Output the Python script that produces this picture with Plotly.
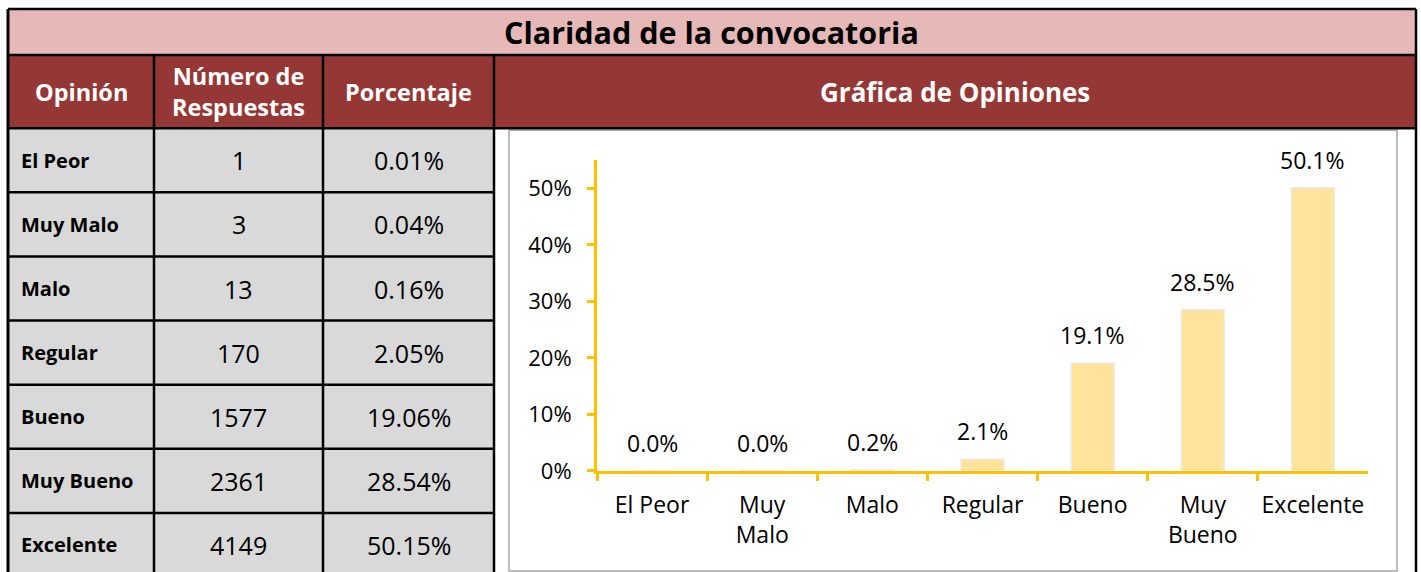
import plotly.graph_objects as go

# ---------------- data ----------------
title_text = "Claridad de la convocatoria"
header_labels = ["Opinión", "Número de<br>Respuestas", "Porcentaje"]
chart_header = "Gráfica de Opiniones"
opinions = ["El Peor", "Muy Malo", "Malo", "Regular", "Bueno", "Muy Bueno", "Excelente"]
responses = [1, 3, 13, 170, 1577, 2361, 4149]
percent_text = ["0.01%", "0.04%", "0.16%", "2.05%", "19.06%", "28.54%", "50.15%"]
percent_values = [0.01, 0.04, 0.16, 2.05, 19.06, 28.54, 50.15]
data_labels = ["0.0%", "0.0%", "0.2%", "2.1%", "19.1%", "28.5%", "50.1%"]
x_tick_labels = ["El Peor", "Muy<br>Malo", "Malo", "Regular", "Bueno", "Muy<br>Bueno", "Excelente"]
y_tick_values = [0, 0.1, 0.2, 0.3, 0.4, 0.5]
y_tick_labels = ["0%", "10%", "20%", "30%", "40%", "50%"]

# ---------------- geometry helpers ----------------
W, H = 1421, 572          # reference pixel grid used for placement
FIG_H = 587               # figure height (the capture squeezes it back to 572)
FONT = "Open Sans"


def px(x):
    return x / W


def py(y):
    return 1 - y / H


shapes = []
annotations = []


def rect(x0, y0, x1, y1, fill, line_color=None, line_width=0, layer="below"):
    shapes.append(dict(type="rect", xref="paper", yref="paper",
                       x0=px(x0), x1=px(x1), y0=py(y1), y1=py(y0),
                       fillcolor=fill, layer=layer,
                       line=dict(color=line_color or fill, width=line_width)))


def hline(x0, x1, y, color="black", width=2.5):
    shapes.append(dict(type="line", xref="paper", yref="paper",
                       x0=px(x0), x1=px(x1), y0=py(y), y1=py(y),
                       line=dict(color=color, width=width), layer="below"))


def vline(x, y0, y1, color="black", width=2.5):
    shapes.append(dict(type="line", xref="paper", yref="paper",
                       x0=px(x), x1=px(x), y0=py(y0), y1=py(y1),
                       line=dict(color=color, width=width), layer="below"))


def text(x, y, s, size, color="black", bold=False, xanchor="center"):
    if bold:
        s = "<b>" + s.replace("<br>", "</b><br><b>") + "</b>"
    annotations.append(dict(xref="paper", yref="paper", x=px(x), y=py(y), text=s,
                            showarrow=False, xanchor=xanchor, yanchor="middle",
                            font=dict(family=FONT, size=size, color=color)))


# column/row boundaries (pixels)
col_x = [8, 154, 323, 494]
right_x = 1416
top_y, title_bottom, header_bottom = 9, 55, 128
row_h = 64
row_y = [header_bottom + i * row_h for i in range(len(opinions) + 1)]

PINK = "#E6B8B7"
DARKRED = "#953735"
GRAY = "#D9D9D9"

# backgrounds
rect(col_x[0], top_y, right_x, title_bottom, PINK)
rect(col_x[0], title_bottom, right_x, header_bottom, DARKRED)
rect(col_x[0], header_bottom, col_x[3], H, GRAY)
# chart box
rect(509, 130, 1397, 570, "white", "#A6A6A6", 1.5)

# grid lines
hline(col_x[0], right_x, top_y)
hline(col_x[0], right_x, title_bottom)
hline(col_x[0], right_x, header_bottom)
for y in row_y[1:]:
    if y < H:
        hline(col_x[0], col_x[3], y)
vline(col_x[0], top_y, H, width=3)
for x in col_x[1:]:
    vline(x, title_bottom, H)
vline(right_x, top_y, H)

# texts
text((col_x[0] + right_x) / 2, (top_y + title_bottom) / 2, title_text, 30.5, bold=True)
for i, lab in enumerate(header_labels):
    text((col_x[i] + col_x[i + 1]) / 2, (title_bottom + header_bottom) / 2, lab, 23.5,
         color="white", bold=True)
text((col_x[3] + right_x) / 2, (title_bottom + header_bottom) / 2, chart_header, 26,
     color="white", bold=True)
for i, op in enumerate(opinions):
    yc = (row_y[i] + row_y[i + 1]) / 2
    text(col_x[0] + 11, yc, op, 20, bold=True, xanchor="left")
    text((col_x[1] + col_x[2]) / 2, yc, str(responses[i]), 25)
    text((col_x[2] + col_x[3]) / 2, yc, percent_text[i], 25)

# ---------------- chart ----------------
AXIS = "#FFC000"
bar_values = [v / 100 for v in percent_values]

fig = go.Figure()
fig.add_trace(go.Bar(
    x=opinions, y=bar_values, width=0.39,
    marker=dict(color="#FFE39A", line=dict(color="#EAEAEA", width=1.5)),
    hoverinfo="skip", showlegend=False,
))

for op, v, lab in zip(opinions, bar_values, data_labels):
    annotations.append(dict(xref="x", yref="y", x=op, y=v, text=lab, showarrow=False,
                            yanchor="bottom", yshift=10,
                            font=dict(family=FONT, size=23, color="black")))

fig.update_layout(
    width=W, height=FIG_H, autosize=False,
    margin=dict(l=0, r=0, t=0, b=0),
    paper_bgcolor="white", plot_bgcolor="rgba(0,0,0,0)",
    font=dict(family=FONT, size=22, color="black"),
    shapes=shapes, annotations=annotations,
    xaxis=dict(domain=[px(597), px(1368)], type="category",
               tickvals=opinions, ticktext=x_tick_labels,
               showline=True, linecolor=AXIS, linewidth=3,
               ticks="outside", tickson="boundaries", ticklen=7, tickwidth=3,
               tickcolor=AXIS, showgrid=False, zeroline=False,
               ticklabelstandoff=12,
               tickfont=dict(family=FONT, size=23, color="black")),
    yaxis=dict(domain=[py(470), py(160)], range=[0, 0.55],
               tickvals=y_tick_values, ticktext=y_tick_labels,
               showline=True, linecolor=AXIS, linewidth=3,
               ticks="outside", ticklen=7, tickwidth=3, tickcolor=AXIS,
               showgrid=False, zeroline=False, ticklabelstandoff=11,
               tickfont=dict(family=FONT, size=22, color="black")),
)

post = """
var s=document.createElement('style');
s.textContent='html,body{margin:0;padding:0;overflow:hidden;}';
document.head.appendChild(s);
"""
fig.write_html("out.html", config={"displayModeBar": False, "responsive": False},
               post_script=post)
